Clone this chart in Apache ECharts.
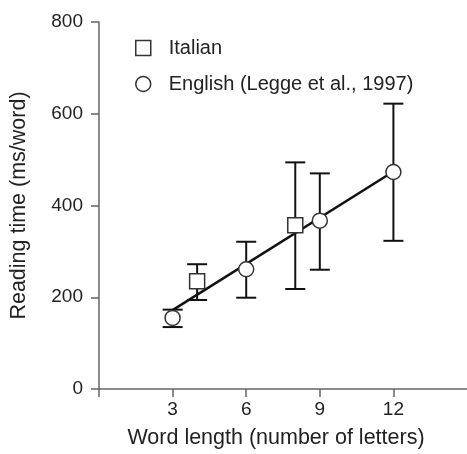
<!DOCTYPE html>
<html><head><meta charset="utf-8">
<script src="https://cdn.jsdelivr.net/npm/echarts@6/dist/echarts.min.js"></script>
<style>html,body{margin:0;padding:0;background:#fff}#c{width:467px;height:454px}</style>
</head><body><div id="c"></div>
<script>
// Data
const xTickValues = [0, 3, 6, 9, 12];
const xTickLabels = [3, 6, 9, 12];
const yTicks = [0, 200, 400, 600, 800];
const italianX = [4, 8];
const italianMean = [235, 357];
const italianLow = [194, 218];
const italianHigh = [272, 494];
const englishX = [3, 6, 9, 12];
const englishMean = [155, 261, 367, 473];
const englishLow = [135, 199, 260, 323];
const englishHigh = [173, 321, 470, 622];
const fitLine = [[3, 172], [12, 474]];

const font = '"Liberation Sans", Arial, Helvetica, sans-serif';
const axisColor = '#666';

function errData(xs, lo, hi) { return xs.map((x, i) => [x, lo[i], hi[i]]); }
function errRender(params, api) {
  const x = api.value(0);
  const lo = api.coord([x, api.value(1)]);
  const hi = api.coord([x, api.value(2)]);
  const hw = 10;
  const style = { stroke: '#111', lineWidth: 2, fill: null };
  return { type: 'group', children: [
    { type: 'line', shape: { x1: lo[0], y1: lo[1], x2: hi[0], y2: hi[1] }, style },
    { type: 'line', shape: { x1: lo[0] - hw, y1: lo[1], x2: lo[0] + hw, y2: lo[1] }, style },
    { type: 'line', shape: { x1: hi[0] - hw, y1: hi[1], x2: hi[0] + hw, y2: hi[1] }, style }
  ]};
}

const chart = echarts.init(document.getElementById('c'), null, { renderer: 'canvas' });
chart.setOption({
  animation: false,
  backgroundColor: '#fff',
  textStyle: { fontFamily: font },
  grid: { left: 98, right: 0, top: 22, bottom: 62, containLabel: false },
  legend: {
    orient: 'vertical', left: 130, top: 33, itemWidth: 15, itemHeight: 15, itemGap: 16,
    textStyle: { fontFamily: font, fontSize: 20, color: '#222', padding: [0, 0, 0, 13] },
    data: [
      { name: 'Italian', icon: 'rect', itemStyle: { color: '#fff', borderColor: '#333', borderWidth: 1.5 } },
      { name: 'English (Legge et al., 1997)', icon: 'circle', itemStyle: { color: '#fff', borderColor: '#333', borderWidth: 1.5 } }
    ]
  },
  xAxis: {
    type: 'value', min: 0, max: 15, interval: 3,
    name: 'Word length (number of letters)', nameLocation: 'middle', nameGap: 38,
    nameTextStyle: { fontFamily: font, fontSize: 21.5, color: '#222', padding: [0, 14, 0, 0] },
    axisLine: { show: true, onZero: false, lineStyle: { color: axisColor, width: 1.5 } },
    axisTick: { show: true, inside: false, length: 8, customValues: xTickValues, lineStyle: { color: axisColor, width: 1.5 } },
    axisLabel: { fontFamily: font, fontSize: 19, color: '#222', margin: 11, customValues: xTickLabels },
    splitLine: { show: false }
  },
  yAxis: {
    type: 'value', min: 0, max: 800, interval: 200,
    name: 'Reading time (ms/word)', nameLocation: 'middle', nameGap: 69,
    nameTextStyle: { fontFamily: font, fontSize: 21.5, color: '#222' },
    axisLine: { show: true, lineStyle: { color: axisColor, width: 1.5 } },
    axisTick: { show: true, inside: false, length: 8, lineStyle: { color: axisColor, width: 1.5 } },
    axisLabel: { fontFamily: font, fontSize: 19, color: '#222', margin: 16 },
    splitLine: { show: false }
  },
  series: [
    { type: 'line', data: fitLine, symbol: 'none', lineStyle: { color: '#111', width: 2.5 }, z: 2, silent: true },
    { type: 'custom', data: errData(italianX, italianLow, italianHigh), renderItem: errRender, z: 1, silent: true },
    { type: 'custom', data: errData(englishX, englishLow, englishHigh), renderItem: errRender, z: 1, silent: true },
    { name: 'Italian', type: 'scatter', symbol: 'rect', symbolSize: 15,
      data: italianX.map((x, i) => [x, italianMean[i]]),
      itemStyle: { color: '#fff', borderColor: '#333', borderWidth: 1.5, opacity: 1 }, z: 5 },
    { name: 'English (Legge et al., 1997)', type: 'scatter', symbol: 'circle', symbolSize: 15,
      data: englishX.map((x, i) => [x, englishMean[i]]),
      itemStyle: { color: '#fff', borderColor: '#333', borderWidth: 1.5, opacity: 1 }, z: 5 }
  ]
});
</script></body></html>
